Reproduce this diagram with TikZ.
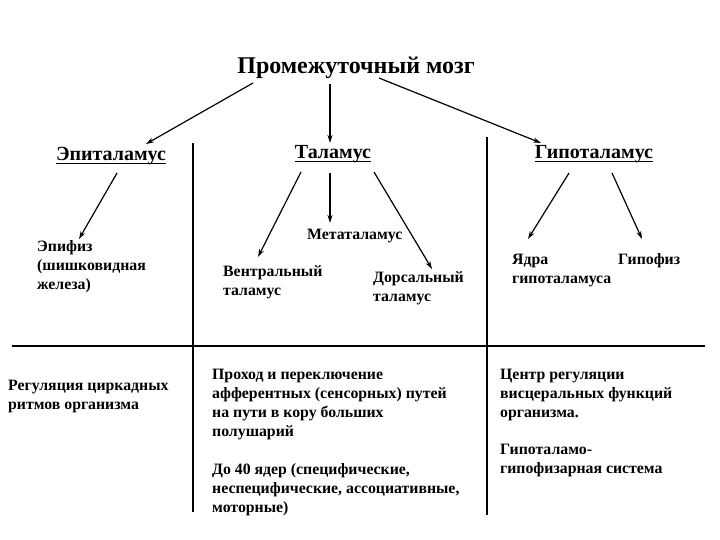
\documentclass[tikz,border=0pt]{standalone}
\usepackage{fontspec}
\setmainfont{Liberation Serif}
\usetikzlibrary{arrows.meta}
\begin{document}
\begin{tikzpicture}[x=1pt,y=-1pt,
  arr/.style={line width=1.2pt,-{Stealth[length=8pt,width=5pt]}},
  rule/.style={line width=1.3pt},
  uline/.style={line width=1pt},
  head/.style={font=\fontsize{20}{23}\selectfont\bfseries,inner sep=0pt,anchor=base},
  lbl/.style={font=\fontsize{15.8}{19}\selectfont\bfseries,inner sep=0pt,align=left,anchor=north west},
]
\useasboundingbox (0,0) rectangle (720,540);
\fill[white] (0,0) rectangle (720,540);
% headings
\node[head,font=\fontsize{24}{27}\selectfont\bfseries] (title) at (356,74) {Промежуточный мозг};
\node[head] (epi) at (111,161) {Эпиталамус};
\node[head] (tal) at (333,159) {Таламус};
\node[head] (hyp) at (594,159) {Гипоталамус};
\draw[uline] ([yshift=-2.5pt]epi.base west) -- ([yshift=-2.5pt]epi.base east);
\draw[uline] ([yshift=-2.5pt]tal.base west) -- ([yshift=-2.5pt]tal.base east);
\draw[uline] ([yshift=-2.5pt]hyp.base west) -- ([yshift=-2.5pt]hyp.base east);
% labels
\node[lbl] (epif) at (37,240.5) {Эпифиз\\(шишковидная\\железа)};
\node[lbl] (meta) at (307,228.5) {Метаталамус};
\node[lbl] (ventr) at (223,265.5) {Вентральный\\таламус};
\node[lbl] (dors) at (373,271.5) {Дорсальный\\таламус};
\node[lbl] (yadra) at (512,253.5) {Ядра\\гипоталамуса};
\node[lbl] (hypof) at (618,253.5) {Гипофиз};
% bottom texts
\node[lbl] (circ) at (8,379.5) {Регуляция циркадных\\ритмов организма};
\node[lbl] (prox) at (212,368.5) {Проход и переключение\\афферентных (сенсорных) путей\\на пути в кору больших\\полушарий};
\node[lbl] (do40) at (212,463.5) {До 40 ядер (специфические,\\неспецифические, ассоциативные,\\моторные)};
\node[lbl] (centr) at (500,368.5) {Центр регуляции\\висцеральных функций\\организма.};
\node[lbl] (gsys) at (500,443.5) {Гипоталамо-\\гипофизарная система};
% coordinates
\coordinate (t1) at (253,83);
\coordinate (t2) at (330,84);
\coordinate (t3) at (379,78);
\coordinate (e1) at (146,144);
\coordinate (e2) at (330,143);
\coordinate (e3) at (541,143);
\coordinate (ep0) at (117,173);
\coordinate (ep1) at (79,239);
\coordinate (tv0) at (301,172);
\coordinate (tv1) at (258,257);
\coordinate (tm0) at (330,173);
\coordinate (tm1) at (330,223);
\coordinate (td0) at (374,172);
\coordinate (td1) at (432,269);
\coordinate (hy0) at (569,173);
\coordinate (hy1) at (528,239);
\coordinate (hp0) at (612,173);
\coordinate (hp1) at (642,239);
\coordinate (v1a) at (193,143);
\coordinate (v1b) at (193,512);
\coordinate (v2a) at (487,137);
\coordinate (v2b) at (487,515);
\coordinate (ha) at (12,346);
\coordinate (hb) at (705,346);
% arrows
\draw[arr] (t1) -- (e1);
\draw[arr] (t2) -- (e2);
\draw[arr] (t3) -- (e3);
\draw[arr] (ep0) -- (ep1);
\draw[arr] (tv0) -- (tv1);
\draw[arr] (tm0) -- (tm1);
\draw[arr] (td0) -- (td1);
\draw[arr] (hy0) -- (hy1);
\draw[arr] (hp0) -- (hp1);
% rules
\draw[rule] (v1a) -- (v1b);
\draw[rule] (v2a) -- (v2b);
\draw[rule] (ha) -- (hb);
\end{tikzpicture}
\end{document}
